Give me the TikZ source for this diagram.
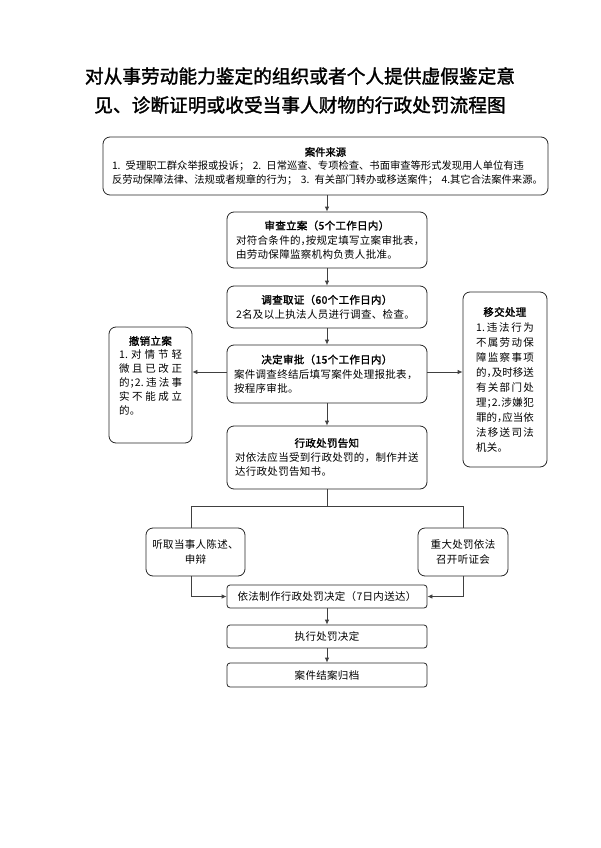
\documentclass[tikz,border=0pt]{standalone}
\usepackage{fontspec}
\setmainfont{Noto Sans CJK SC}[BoldFont={Noto Sans CJK SC},BoldFeatures={FakeBold=1.6}]
\newfontfamily\lsfont{Noto Sans CJK SC}[LetterSpace=3,BoldFont={Noto Sans CJK SC},BoldFeatures={FakeBold=1.6}]
\usetikzlibrary{arrows.meta}
\newcommand\hc[1]{\makebox[0.5em][l]{#1}}
\newcommand\gf{\hfill}
\begin{document}
\begin{tikzpicture}[x=1pt,y=-1pt,
  box/.style={draw=black!85,line width=0.8pt,rounded corners=7pt,inner sep=0pt,align=center,
    font=\lsfont\fontsize{10.5}{14.5}\selectfont},
  sbox/.style={box,rounded corners=3pt},
  arr/.style={draw=black!75,line width=0.8pt,-{Latex[length=5pt,width=4.5pt]}},
  ln/.style={draw=black!75,line width=0.8pt},
  ttl/.style={font=\fontsize{18.7}{22}\selectfont\bfseries,inner sep=0pt}]
\useasboundingbox (0,0) rectangle (600,848);
% title
\node[ttl] (t1) at (300,76) {对从事劳动能力鉴定的组织或者个人提供虚假鉴定意};
\node[ttl] (t2) at (300,105) {见、诊断证明或收受当事人财物的行政处罚流程图};
% source
\node[box,minimum width=445pt,minimum height=58pt,text width=427pt,
      font=\rmfamily\fontsize{10.3}{13.6}\selectfont] (src) at (325.5,166)
  {\textbf{案件来源}\\
   \makebox[427pt][s]{1. 受理职工群众举报或投诉； 2. 日常巡查、专项检查、书面审查等形式发现用人单位有违}\\
   \makebox[427pt][s]{反劳动保障法律、法规或者规章的行为； 3. 有关部门转办或移送案件； 4.其它合法案件来源。}};
% review
\node[box,minimum width=200pt,minimum height=56pt,text width=182pt] (b2) at (327,240)
  {\textbf{审查立案（5个工作日内）}\\
   \makebox[182pt][l]{对符合条件的\hc{，}按规定填写立案审批表，}\\
   \makebox[182pt][l]{由劳动保障监察机构负责人批准。}};
% investigate
\node[box,minimum width=200pt,minimum height=42pt,text width=182pt] (b3) at (327,307)
  {\textbf{调查取证（60个工作日内）}\\
   \makebox[182pt][l]{2名及以上执法人员进行调查、检查。}};
% decide
\node[box,minimum width=200pt,minimum height=58pt,text width=186pt] (b4) at (327,374)
  {\textbf{决定审批（15个工作日内）}\\
   \makebox[186pt][l]{案件调查终结后填写案件处理报批表，}\\
   \makebox[186pt][l]{按程序审批。}};
% cancel
\node[box,minimum width=83pt,minimum height=116pt,text width=63pt,
      font=\lsfont\fontsize{10.5}{14}\selectfont] (lc) at (150.5,385)
  {\textbf{撤销立案}\\
   \makebox[63pt][s]{1.\gf 对\gf 情\gf 节\gf 轻}\\
   \makebox[63pt][s]{微\gf 且\gf 已\gf 改\gf 正}\\
   \makebox[63pt][s]{的\hc{；}2.\gf 违\gf 法\gf 事}\\
   \makebox[63pt][s]{实\gf 不\gf 能\gf 成\gf 立}\\
   \makebox[63pt][l]{的。}\\[5pt]\mbox{}};
% transfer
\node[box,minimum width=84pt,minimum height=175pt,text width=58pt,
      font=\lsfont\fontsize{10.5}{15}\selectfont] (rt) at (505,379.5)
  {\textbf{移交处理}\\
   \makebox[58pt][s]{1.\gf 违\gf 法\gf 行\gf 为}\\
   \makebox[58pt][s]{不\gf 属\gf 劳\gf 动\gf 保}\\
   \makebox[58pt][s]{障\gf 监\gf 察\gf 事\gf 项}\\
   \makebox[58pt][s]{的\hc{，}及\gf 时\gf 移\gf 送}\\
   \makebox[58pt][s]{有\gf 关\gf 部\gf 门\gf 处}\\
   \makebox[58pt][s]{理\hc{；}2.\gf 涉\gf 嫌\gf 犯}\\
   \makebox[58pt][s]{罪\gf 的\hc{，}应\gf 当\gf 依}\\
   \makebox[58pt][s]{法\gf 移\gf 送\gf 司\gf 法}\\
   \makebox[58pt][l]{机关。}};
% notify
\node[box,minimum width=200pt,minimum height=63pt,text width=184pt] (b5) at (327,457.5)
  {\textbf{行政处罚告知}\\
   \makebox[184pt][l]{对依法应当受到行政处罚的，制作并送}\\
   \makebox[184pt][l]{达行政处罚告知书。}};
% statement / hearing
\node[box,minimum width=99pt,minimum height=48pt] (s1) at (195.5,552)
  {听取当事人陈述、\\申辩};
\node[box,minimum width=90pt,minimum height=48pt] (s2) at (463,552)
  {重大处罚依法\\召开听证会};
% decision, execute, archive
\node[sbox,minimum width=200pt,minimum height=23pt] (b6) at (327,596.5)
  {依法制作行政处罚决定（7日内送达）};
\node[sbox,minimum width=200pt,minimum height=23pt] (b7) at (327,636.5)
  {执行处罚决定};
\node[sbox,minimum width=200pt,minimum height=24pt] (b8) at (327,675)
  {案件结案归档};
% connectors
\draw[arr] (b2.north |- src.south) -- (b2.north);
\draw[arr] (b2.south) -- (b3.north);
\draw[arr] (b3.south) -- (b4.north);
\draw[arr] (b4.south) -- (b5.north);
\draw[arr] ([yshift=2pt]b4.west) -- ([yshift=2pt]b4.west -| lc.east);
\draw[arr] ([yshift=2pt]b4.east) -- ([yshift=2pt]b4.east -| rt.west);
\coordinate (jm) at (327,506);
\coordinate (jl) at (191,506);
\coordinate (jr) at (463,506);
\draw[ln] (b5.south) -- (jm);
\draw[ln] (jl) -- (jr);
\draw[ln] (jl) -- (jl |- s1.north);
\draw[ln] (jr) -- (s2.north);
\draw[arr] (jl |- s1.south) |- (b6.west);
\draw[arr] (s2.south) |- (b6.east);
\draw[arr] (b6.south) -- (b7.north);
\draw[arr] (b7.south) -- (b8.north);
\end{tikzpicture}
\end{document}
